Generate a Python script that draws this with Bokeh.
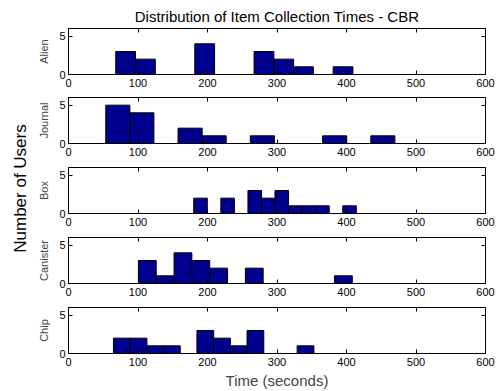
from math import pi
from bokeh.plotting import figure
from bokeh.layouts import row, column
from bokeh.models import FixedTicker, LinearAxis, Range1d, Label, CustomJSTickFormatter
from bokeh.embed import file_html
from bokeh.resources import INLINE

title_text = "Distribution of Item Collection Times - CBR"
x_label = "Time (seconds)"
y_label = "Number of Users"
x_ticks = [0, 100, 200, 300, 400, 500, 600]
y_ticks = [0, 5]

item_names = ["Alien", "Journal", "Box", "Canister", "Chip"]

alien_edges = [68, 96.4, 124.9, 153.3, 181.7, 210.2, 238.6, 267, 295.5, 323.9, 352.3, 380.8, 409.2]
alien_counts = [3, 2, 0, 0, 4, 0, 0, 3, 2, 1, 0, 1]

journal_edges = [53.6, 88.3, 122.9, 157.6, 192.3, 226.9, 261.6, 296.3, 331, 365.6, 400.3, 435, 469.6]
journal_counts = [5, 4, 0, 2, 1, 0, 1, 0, 0, 1, 0, 1]

box_edges = [180.2, 199.7, 219.2, 238.7, 258.2, 277.7, 297.1, 316.6, 336.1, 355.6, 375.1, 394.6, 414.1]
box_counts = [2, 0, 2, 0, 3, 2, 3, 1, 1, 1, 0, 1]

canister_edges = [100.6, 126.2, 151.9, 177.5, 203.2, 228.8, 254.5, 280.1, 305.7, 331.4, 357, 382.7, 408.3]
canister_counts = [3, 1, 4, 3, 2, 0, 2, 0, 0, 0, 0, 1]

chip_edges = [64.7, 88.7, 112.8, 136.8, 160.8, 184.8, 208.9, 232.9, 256.9, 281, 305, 329, 353.1]
chip_counts = [2, 2, 1, 1, 0, 3, 2, 1, 3, 0, 0, 1]

all_edges = [alien_edges, journal_edges, box_edges, canister_edges, chip_edges]
all_counts = [alien_counts, journal_counts, box_counts, canister_counts, chip_counts]

FONT = "Liberation Sans"
BAR = "#00008F"
LABEL_W = 33
FRAME_W = 417
FRAME_H = 46


def style_axis(ax, ticks, show_labels=True):
    ax.ticker = FixedTicker(ticks=ticks)
    ax.minor_tick_line_color = None
    ax.major_tick_in = 4
    ax.major_tick_out = 0
    ax.major_tick_line_color = "black"
    ax.axis_line_color = "black"
    ax.major_label_text_font = FONT
    ax.major_label_text_font_size = "11px"
    ax.major_label_text_color = "black"
    if show_labels:
        ax.major_label_standoff = 4
    else:
        ax.formatter = CustomJSTickFormatter(code="return ''")
        ax.major_label_standoff = 0
        ax.major_label_text_font_size = "1px"


figs = []
n = len(item_names)
for i, (name, edges, counts) in enumerate(zip(item_names, all_edges, all_counts)):
    first = i == 0
    last = i == n - 1
    top_border = 28 if first else 5
    bottom_border = 38 if last else (18 if first else 19)
    p = figure(frame_width=FRAME_W, frame_height=FRAME_H,
               x_range=Range1d(0, 600), y_range=Range1d(0, 6),
               output_backend="svg", toolbar_location=None,
               min_border_left=68 - LABEL_W, min_border_right=13,
               min_border_top=top_border, min_border_bottom=bottom_border)
    p.xgrid.visible = False
    p.ygrid.visible = False
    p.outline_line_color = "black"
    p.outline_line_alpha = 1
    p.background_fill_color = "white"
    p.border_fill_color = "white"

    p.quad(left=edges[:-1], right=edges[1:], bottom=0, top=counts,
           fill_color=BAR, line_color="black", line_width=1)

    xb = p.xaxis[0]
    yl = p.yaxis[0]
    style_axis(xb, x_ticks)
    style_axis(yl, y_ticks)
    yl.major_label_standoff = 3
    yl.axis_label = name
    yl.axis_label_text_font = FONT
    yl.axis_label_text_font_size = "11px"
    yl.axis_label_text_font_style = "normal"
    yl.axis_label_standoff = 6

    top_ax = LinearAxis()
    style_axis(top_ax, x_ticks, show_labels=False)
    p.add_layout(top_ax, "above")
    right_ax = LinearAxis()
    style_axis(right_ax, y_ticks, show_labels=False)
    p.add_layout(right_ax, "right")

    if first:
        p.title.text = title_text
        p.title.align = "center"
        p.title.text_font = FONT
        p.title.text_font_size = "15px"
        p.title.text_font_style = "normal"
        p.title.text_color = "black"
        p.title.standoff = 8
    if last:
        xb.axis_label = x_label
        xb.axis_label_text_font = FONT
        xb.axis_label_text_font_size = "15px"
        xb.axis_label_text_font_style = "normal"
        xb.axis_label_standoff = 3
    figs.append(p)

total_h = 391
lab = figure(frame_width=LABEL_W, frame_height=total_h,
             x_range=Range1d(0, LABEL_W), y_range=Range1d(total_h, 0),
             output_backend="svg", toolbar_location=None, min_border=0)
lab.axis.visible = False
lab.grid.visible = False
lab.outline_line_color = None
lab.add_layout(Label(x=20, y=188, text=y_label, angle=pi / 2,
                     text_align="center", text_baseline="middle",
                     text_font=FONT, text_font_size="17px", text_color="black"))

layout = row(lab, column(*figs, spacing=0), spacing=0)
open("out.html", "w").write(file_html(layout, INLINE))
